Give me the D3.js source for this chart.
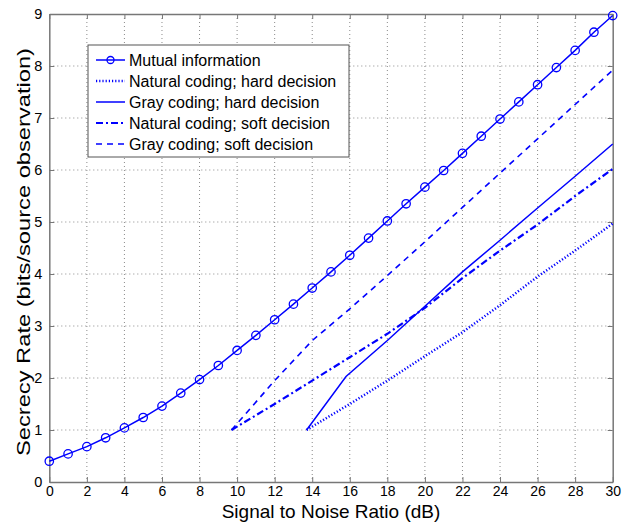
<!DOCTYPE html>
<html><head><meta charset="utf-8">
<script src="https://cdn.jsdelivr.net/npm/d3@7"></script>
<style>body{margin:0;background:#fff;} text{font-family:"Liberation Sans",Arial,sans-serif;}</style>
</head><body>
<svg id="c" width="629" height="524"></svg>
<script>
const xTicks = [0,2,4,6,8,10,12,14,16,18,20,22,24,26,28,30];
const yTicks = [0,1,2,3,4,5,6,7,8,9];
const miX = [0,1,2,3,4,5,6,7,8,9,10,11,12,13,14,15,16,17,18,19,20,21,22,23,24,25,26,27,28,29,30];
const miY = [0.40,0.54,0.68,0.85,1.04,1.24,1.46,1.71,1.97,2.24,2.53,2.82,3.12,3.42,3.73,4.04,4.36,4.69,5.02,5.35,5.67,5.99,6.32,6.65,6.98,7.31,7.64,7.97,8.30,8.65,8.97];
const natHardX = [13.7,16,18,20,22,24,26,28,30];
const natHardY = [1.0,1.5,1.95,2.42,2.88,3.4,3.95,4.45,4.97];
const grayHardX = [13.7,15.8,18,20,22,24,26,28,30];
const grayHardY = [1.0,2.03,2.72,3.38,4.04,4.65,5.27,5.88,6.5];
const natSoftX = [9.7,12,14,16,18,20,22,24,26,28,30];
const natSoftY = [1.0,1.5,1.95,2.4,2.85,3.35,3.92,4.45,4.95,5.5,6.02];
const graySoftX = [9.7,12,14,16,18,20,22,24,26,28,30];
const graySoftY = [1.0,1.95,2.72,3.33,3.97,4.62,5.28,5.94,6.6,7.26,7.92];
const legendLabels = ["Mutual information","Natural coding; hard decision","Gray coding; hard decision","Natural coding; soft decision","Gray coding; soft decision"];

const svg = d3.select("#c");
const L=49.3, R=612.7, T=14, B=482;
const x = d3.scaleLinear().domain([0,30]).range([L,R]);
const y = d3.scaleLinear().domain([0,9]).range([B,T]);
const blue = "#0000ff";
const axisCol = "#777";

// grid
const g = svg.append("g");
g.selectAll(".gx").data(xTicks.slice(1,-1)).enter().append("line")
  .attr("x1",d=>x(d)).attr("x2",d=>x(d)).attr("y1",T).attr("y2",B)
  .attr("stroke","#8a8a8a").attr("stroke-width",1).attr("stroke-dasharray","1,3");
g.selectAll(".gy").data(yTicks.slice(1,-1)).enter().append("line")
  .attr("y1",d=>y(d)).attr("y2",d=>y(d)).attr("x1",L).attr("x2",R)
  .attr("stroke","#8a8a8a").attr("stroke-width",1).attr("stroke-dasharray","1,3");

// axes with inner ticks
const xa = svg.append("g").attr("transform",`translate(0,${B})`)
  .call(d3.axisBottom(x).tickValues(xTicks).tickSize(-5).tickPadding(4).tickSizeOuter(0));
const xa2 = svg.append("g").attr("transform",`translate(0,${T})`)
  .call(d3.axisTop(x).tickValues(xTicks).tickSize(-5).tickFormat("").tickSizeOuter(0));
const ya = svg.append("g").attr("transform",`translate(${L},0)`)
  .call(d3.axisLeft(y).tickValues(yTicks).tickSize(-5).tickPadding(7).tickSizeOuter(0));
const ya2 = svg.append("g").attr("transform",`translate(${R},0)`)
  .call(d3.axisRight(y).tickValues(yTicks).tickSize(-5).tickFormat("").tickSizeOuter(0));
[xa,xa2,ya,ya2].forEach(a=>{
  a.selectAll("path").attr("stroke",axisCol).attr("stroke-width",1.5);
  a.selectAll("line").attr("stroke",axisCol);
  a.selectAll("text").attr("fill","#000").style("font-size","14.5px").style("font-family","'Liberation Sans',Arial,sans-serif");
});
xa.selectAll("text").style("font-size","14px");

// axis titles
svg.append("text").attr("x",(L+R)/2).attr("y",518).attr("text-anchor","middle")
  .style("font-size","19px").text("Signal to Noise Ratio (dB)");
svg.append("text").attr("transform",`translate(30,${(T+B)/2+4}) rotate(-90)`).attr("text-anchor","middle")
  .attr("textLength",408).attr("lengthAdjust","spacingAndGlyphs")
  .style("font-size","19px").text("Secrecy Rate (bits/source observation)");

// lines
const line = d3.line().x(d=>x(d[0])).y(d=>y(d[1]));
const zip = (a,b)=>a.map((v,i)=>[v,b[i]]);
const series = [
  {d:zip(miX,miY), dash:null, w:1.5},
  {d:zip(natHardX,natHardY), dash:"1.2,2", w:2.5},
  {d:zip(grayHardX,grayHardY), dash:null, w:1.5},
  {d:zip(natSoftX,natSoftY), dash:"7,3,2,3", w:2.2},
  {d:zip(graySoftX,graySoftY), dash:"6,5", w:1.6}
];
series.forEach(s=>{
  svg.append("path").datum(s.d).attr("d",line).attr("fill","none")
    .attr("stroke",blue).attr("stroke-width",s.w).attr("stroke-dasharray",s.dash);
});
svg.selectAll(".mk").data(zip(miX,miY)).enter().append("circle")
  .attr("cx",d=>x(d[0])).attr("cy",d=>y(d[1])).attr("r",4.2)
  .attr("fill","none").attr("stroke",blue).attr("stroke-width",1.3);

// legend
const lg = svg.append("g");
lg.append("rect").attr("x",88).attr("y",45).attr("width",261).attr("height",112)
  .attr("fill","#fff").attr("stroke","#555").attr("stroke-width",1);
const rowY = [60,81,102,123,144];
legendLabels.forEach((t,i)=>{
  const s = series[i];
  lg.append("line").attr("x1",96).attr("x2",125).attr("y1",rowY[i]).attr("y2",rowY[i])
    .attr("stroke",blue).attr("stroke-width",s.w).attr("stroke-dasharray",s.dash);
  if(i===0) lg.append("circle").attr("cx",110.5).attr("cy",rowY[i]).attr("r",3.5)
    .attr("fill","none").attr("stroke",blue).attr("stroke-width",1.3);
  lg.append("text").attr("x",129).attr("y",rowY[i]+6)
    .style("font-size","16px").text(t);
});
</script>
</body></html>
